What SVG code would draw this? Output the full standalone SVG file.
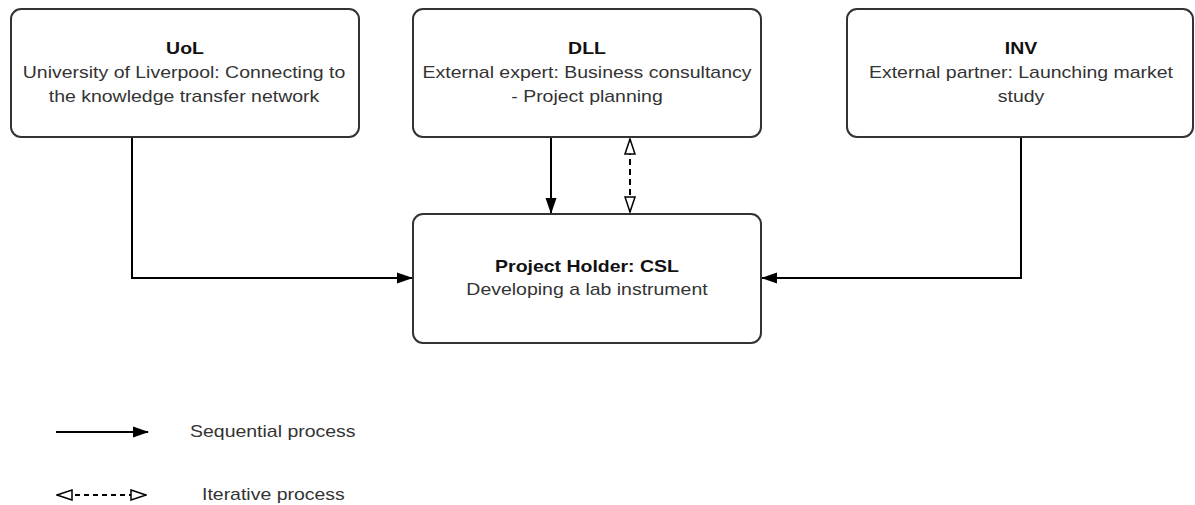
<svg xmlns="http://www.w3.org/2000/svg" width="1195" height="505" viewBox="0 0 1195 505">
<style>
.box{fill:#fff;stroke:#333;stroke-width:2}
.t{font-family:"Liberation Sans",Arial,sans-serif;font-size:16px;fill:#333;text-anchor:middle}
.b{font-weight:bold;fill:#111}
.ln{fill:none;stroke:#000;stroke-width:2}
.dash{stroke-dasharray:6,4}
.lg{font-family:"Liberation Sans",Arial,sans-serif;font-size:16px;fill:#333}
</style>
<defs>
<marker id="solid" viewBox="0 0 16 12" refX="15" refY="6" markerWidth="16" markerHeight="12" markerUnits="userSpaceOnUse" orient="auto">
<path d="M0,0.5 L16,6 L0,11.5 Z" fill="#000"/>
</marker>
<marker id="hollow" viewBox="0 0 17 12" refX="16" refY="6" markerWidth="17" markerHeight="12" markerUnits="userSpaceOnUse" orient="auto-start-reverse">
<path d="M1,1 L16,6 L1,11 Z" fill="#fff" stroke="#000" stroke-width="1.5"/>
</marker>
</defs>
<g id="connectors">
<path class="ln" d="M132,137 V278 H412" marker-end="url(#solid)"/>
<path class="ln" d="M1021,137 V278 H762" marker-end="url(#solid)"/>
<path class="ln" d="M551,137 V213" marker-end="url(#solid)"/>
<path class="ln dash" d="M630,139 V212" marker-start="url(#hollow)" marker-end="url(#hollow)"/>
</g>
<g id="UoL">
<rect class="box" x="11" y="9" width="348" height="128" rx="10"/>
<text class="t b" transform="translate(185 54) scale(1.217 1)">UoL</text>
<text class="t" transform="translate(184 78) scale(1.217 1)">University of Liverpool: Connecting to</text>
<text class="t" transform="translate(184 102) scale(1.217 1)">the knowledge transfer network</text>
</g>
<g id="DLL">
<rect class="box" x="413" y="9" width="348" height="128" rx="10"/>
<text class="t b" transform="translate(587 54) scale(1.217 1)">DLL</text>
<text class="t" transform="translate(587 78) scale(1.217 1)">External expert: Business consultancy</text>
<text class="t" transform="translate(587 102) scale(1.217 1)">- Project planning</text>
</g>
<g id="INV">
<rect class="box" x="847" y="9" width="346" height="128" rx="10"/>
<text class="t b" transform="translate(1021 54) scale(1.217 1)">INV</text>
<text class="t" transform="translate(1021 78) scale(1.217 1)">External partner: Launching market</text>
<text class="t" transform="translate(1021 102) scale(1.217 1)">study</text>
</g>
<g id="CSL">
<rect class="box" x="413" y="214" width="348" height="129" rx="10"/>
<text class="t b" transform="translate(587 272) scale(1.217 1)">Project Holder: CSL</text>
<text class="t" transform="translate(587 295) scale(1.217 1)">Developing a lab instrument</text>
</g>
<g id="legend">
<path class="ln" d="M56,432 H148" marker-end="url(#solid)"/>
<text class="lg" transform="translate(190 437) scale(1.217 1)">Sequential process</text>
<path class="ln" d="M57,495 H146" stroke-dasharray="5,4" marker-start="url(#hollow)" marker-end="url(#hollow)"/>
<text class="lg" transform="translate(202 500) scale(1.217 1)">Iterative process</text>
</g>
</svg>
